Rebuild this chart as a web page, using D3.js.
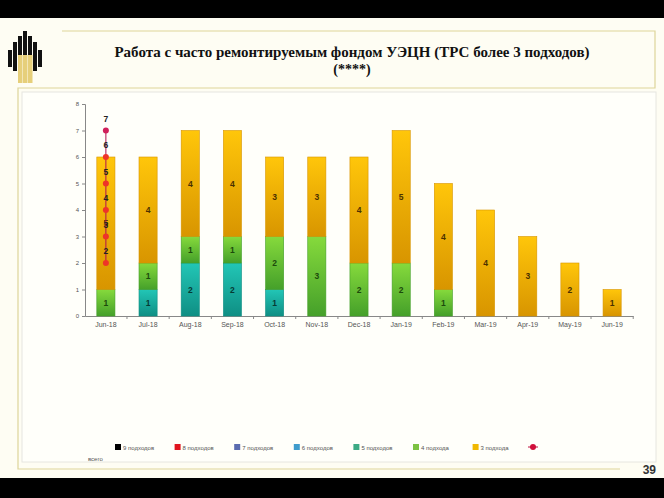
<!DOCTYPE html>
<html>
<head>
<meta charset="utf-8">
<script src="https://cdn.jsdelivr.net/npm/d3@7"></script>
<style>
  body { margin: 0; background: #000; }
  svg { display: block; }
</style>
</head>
<body>
<div id="chart"></div>
<script>
// Chart data
const months = ["Jun-18", "Jul-18", "Aug-18", "Sep-18", "Oct-18", "Nov-18", "Dec-18",
                "Jan-19", "Feb-19", "Mar-19", "Apr-19", "May-19", "Jun-19"];
const seriesNames = ["9 подходов", "8 подходов", "7 подходов", "6 подходов", "5 подходов", "4 подхода", "3 подхода"];
const s9 = [0, 0, 0, 0, 0, 0, 0, 0, 0, 0, 0, 0, 0];
const s8 = [0, 0, 0, 0, 0, 0, 0, 0, 0, 0, 0, 0, 0];
const s7 = [0, 0, 0, 0, 0, 0, 0, 0, 0, 0, 0, 0, 0];
const s6 = [0, 0, 0, 0, 0, 0, 0, 0, 0, 0, 0, 0, 0];
const s5 = [0, 1, 2, 2, 1, 0, 0, 0, 0, 0, 0, 0, 0];
const s4 = [1, 1, 1, 1, 2, 3, 2, 2, 1, 0, 0, 0, 0];
const s3 = [5, 4, 4, 4, 3, 3, 4, 5, 4, 4, 3, 2, 1];
// "всего" series: the points all fall on the first month in the original
const totalMonth = "Jun-18";
const totalValues = [2, 3, 4, 5, 6, 7];
const yTicks = [0, 1, 2, 3, 4, 5, 6, 7, 8];

const W = 664, H = 498;
const svg = d3.select("#chart").append("svg").attr("width", W).attr("height", H);

// background and frames
svg.append("rect").attr("width", W).attr("height", H).attr("fill", "#000");
svg.append("rect").attr("x", 0).attr("y", 18).attr("width", W).attr("height", 460).attr("fill", "#fefdf3");

const frame = "#ddd59a";
svg.append("path")
  .attr("d", "M62,31 H655 V88 H18 V469 H620")
  .attr("fill", "none").attr("stroke", frame).attr("stroke-width", 1.2);
svg.append("rect")
  .attr("x", 22).attr("y", 92).attr("width", 634).attr("height", 370)
  .attr("fill", "#fffffa").attr("stroke", "#e6e6e0").attr("stroke-width", 1);

// logo
const logo = svg.append("g");
[[8, 50, 67], [13, 42, 71], [18, 36, 74], [23, 31, 76], [28, 36, 74], [33, 42, 71], [38, 50, 67]]
  .forEach(([x, t, b]) => logo.append("rect").attr("x", x).attr("y", t).attr("width", 4).attr("height", b - t).attr("fill", "#111"));
[18, 23, 28].forEach(x => logo.append("rect").attr("x", x).attr("y", 55).attr("width", 4.5).attr("height", 28).attr("fill", "#e6cf7a"));

// title
svg.append("text").attr("x", 352).attr("y", 57).attr("text-anchor", "middle")
  .attr("font-family", "Liberation Serif, serif").attr("font-weight", "bold").attr("font-size", 15)
  .attr("fill", "#111").text("Работа с часто ремонтируемым фондом УЭЦН (ТРС более 3 подходов)");
svg.append("text").attr("x", 352).attr("y", 74).attr("text-anchor", "middle")
  .attr("font-family", "Liberation Serif, serif").attr("font-weight", "bold").attr("font-size", 14)
  .attr("fill", "#111").text("(****)");

svg.append("text").attr("x", 656).attr("y", 474).attr("text-anchor", "end")
  .attr("font-family", "Liberation Sans, Arial, sans-serif").attr("font-weight", "bold").attr("font-size", 12)
  .attr("fill", "#333").text("39");

// plot
const margin = {left: 85, top: 104, right: 31, bottom: 182};
const pw = W - margin.left - margin.right, ph = H - margin.top - margin.bottom;
const g = svg.append("g").attr("transform", `translate(${margin.left},${margin.top})`);

const x = d3.scaleBand().domain(months).range([0, pw]).paddingInner(0.57).paddingOuter(0.28);
const y = d3.scaleLinear().domain([0, 8]).range([ph, 0]);

const arrays = [s9, s8, s7, s6, s5, s4, s3];
const rows = months.map((m, i) => {
  const r = {month: m};
  seriesNames.forEach((k, j) => r[k] = arrays[j][i]);
  return r;
});
const stack = d3.stack().keys(seriesNames)(rows);

const colors = {
  "9 подходов": ["#222", "#000", "#111", "#fff"],
  "8 подходов": ["#f0303a", "#c8101a", "#e21a24", "#400"],
  "7 подходов": ["#7080c8", "#4c5ea8", "#5c6db8", "#112"],
  "6 подходов": ["#5ab0dc", "#3388b8", "#4a9ecf", "#023"],
  "5 подходов": ["#22c6b6", "#0f8f84", "#22aa9a", "#063a34"],
  "4 подхода": ["#86da3c", "#45a02a", "#74c43e", "#1d4a0c"],
  "3 подхода": ["#ffc60a", "#d89500", "#f2b400", "#4a3000"]
};

const defs = svg.append("defs");
seriesNames.forEach((k, i) => {
  const gr = defs.append("linearGradient").attr("id", "gr" + i)
    .attr("x1", 0).attr("y1", 0).attr("x2", 0).attr("y2", 1);
  gr.append("stop").attr("offset", "0%").attr("stop-color", colors[k][0]);
  gr.append("stop").attr("offset", "100%").attr("stop-color", colors[k][1]);
});

// axes
const yAxis = g.append("g").call(d3.axisLeft(y).tickValues(yTicks).tickSize(3).tickFormat(d3.format("d")));
const xAxis = g.append("g").attr("transform", `translate(0,${ph})`)
  .call(d3.axisBottom(x).tickSize(0).tickPadding(6));
[yAxis, xAxis].forEach(a => {
  a.select(".domain").attr("stroke", "#888");
  a.selectAll(".tick line").attr("stroke", "#888");
  a.selectAll("text").attr("fill", "#555").attr("font-family", "Liberation Sans, Arial, sans-serif");
});
yAxis.selectAll("text").attr("font-size", 6);
xAxis.selectAll("text").attr("font-size", 7);
// category separators on the x axis
const step = x.step();
g.append("g").selectAll("line")
  .data(months.slice(1).concat(["end"]))
  .join("line")
  .attr("x1", (d, i) => x(months[i]) + x.bandwidth() + (step - x.bandwidth()) / 2)
  .attr("x2", (d, i) => x(months[i]) + x.bandwidth() + (step - x.bandwidth()) / 2)
  .attr("y1", ph).attr("y2", ph + 3).attr("stroke", "#888");

// bars
stack.forEach((layer, i) => {
  const k = layer.key;
  const lg = g.append("g");
  lg.selectAll("rect")
    .data(layer.filter(d => d[1] - d[0] > 0))
    .join("rect")
    .attr("x", d => x(d.data.month))
    .attr("y", d => y(d[1]))
    .attr("width", x.bandwidth())
    .attr("height", d => y(d[0]) - y(d[1]))
    .attr("fill", `url(#gr${i})`)
    .attr("stroke", colors[k][1]).attr("stroke-width", 0.6);
  lg.selectAll("text")
    .data(layer.filter(d => d[1] - d[0] > 0))
    .join("text")
    .attr("x", d => x(d.data.month) + x.bandwidth() / 2)
    .attr("y", d => y((d[0] + d[1]) / 2) + 3)
    .attr("text-anchor", "middle")
    .attr("font-family", "Liberation Sans, Arial, sans-serif").attr("font-weight", "bold").attr("font-size", 8.5)
    .attr("fill", colors[k][3])
    .text(d => d[1] - d[0]);
});

// "всего" line and points
const tx = x(totalMonth) + x.bandwidth() / 2;
g.append("path")
  .attr("d", d3.line().x(() => tx).y(d => y(d))(totalValues))
  .attr("stroke", "#b01050").attr("stroke-width", 1).attr("fill", "none");
g.selectAll(".tot").data(totalValues).join("circle").attr("class", "tot")
  .attr("cx", tx).attr("cy", d => y(d)).attr("r", 3)
  .attr("fill", d => d === 7 ? "#d0205a" : "#ee3428");
g.selectAll(".totl").data(totalValues).join("text").attr("class", "totl")
  .attr("x", tx).attr("y", d => y(d + 0.45) + 3)
  .attr("text-anchor", "middle")
  .attr("font-family", "Liberation Sans, Arial, sans-serif").attr("font-weight", "bold").attr("font-size", 8.5)
  .attr("fill", "#222").text(d => d);

// legend
const leg = svg.append("g").attr("font-family", "Liberation Sans, Arial, sans-serif").attr("font-size", 6).attr("fill", "#555");
const swatch = ["#000", "#e0141e", "#5b6cb0", "#3f9ccc", "#3caa84", "#7cc242", "#f0b800"];
seriesNames.forEach((k, i) => {
  const lx = 115 + i * 59.6;
  leg.append("rect").attr("x", lx).attr("y", 444).attr("width", 6).attr("height", 6).attr("fill", swatch[i]);
  leg.append("text").attr("x", lx + 8).attr("y", 450).text(k);
});
const dx = 533;
leg.append("line").attr("x1", dx - 5).attr("x2", dx + 5).attr("y1", 447).attr("y2", 447).attr("stroke", "#c01040");
leg.append("circle").attr("cx", dx).attr("cy", 447).attr("r", 3).attr("fill", "#d0103a");
leg.append("text").attr("x", 88).attr("y", 461).text("всего");
</script>
</body>
</html>
